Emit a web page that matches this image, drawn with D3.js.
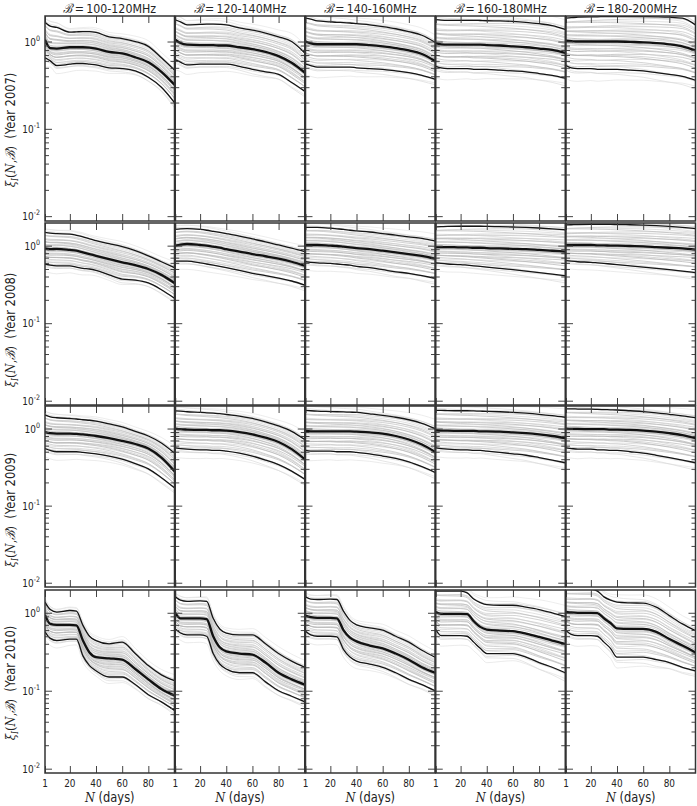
<!DOCTYPE html>
<html><head><meta charset="utf-8">
<script src="https://cdn.jsdelivr.net/npm/d3@7"></script>
<style>body{margin:0;background:#fff} svg{display:block}</style>
</head><body>
<script>
// ---------------- data ----------------
const years = ["2007","2008","2009","2010"];
const bands = ["100-120MHz","120-140MHz","140-160MHz","160-180MHz","180-200MHz"];
const days = [1,5,10,20,25,30,35,40,50,60,70,80,90,100];
const xTickValues = [1,20,40,60,80];
const yMajorValues = [0.01,0.1,1];
const yTickExponents = ["-2","-1","0"];

const medianCurves = [
 [[1.05,0.84,0.83,0.86,0.86,0.86,0.85,0.83,0.76,0.73,0.66,0.58,0.45,0.32],
  [1.05,0.96,0.92,0.91,0.91,0.91,0.90,0.90,0.86,0.82,0.76,0.68,0.57,0.44],
  [1.00,0.95,0.93,0.93,0.93,0.93,0.93,0.93,0.91,0.88,0.84,0.79,0.72,0.60],
  [0.95,0.93,0.92,0.92,0.92,0.92,0.92,0.91,0.90,0.88,0.86,0.83,0.80,0.74],
  [1.02,1.01,1.00,1.00,1.00,1.00,1.00,1.00,0.99,0.98,0.96,0.93,0.88,0.79]],
 [[0.92,0.90,0.91,0.88,0.86,0.82,0.78,0.74,0.67,0.61,0.56,0.50,0.42,0.33],
  [1.00,1.03,1.05,1.02,1.00,0.97,0.94,0.90,0.84,0.78,0.73,0.68,0.62,0.55],
  [1.02,1.02,1.02,1.00,0.99,0.97,0.95,0.93,0.90,0.86,0.82,0.78,0.74,0.68],
  [0.96,0.96,0.96,0.95,0.95,0.94,0.94,0.93,0.92,0.91,0.90,0.88,0.86,0.84],
  [1.02,1.02,1.02,1.02,1.01,1.01,1.00,1.00,0.99,0.98,0.96,0.94,0.92,0.89]],
 [[0.90,0.87,0.86,0.86,0.85,0.84,0.82,0.80,0.75,0.69,0.63,0.55,0.42,0.28],
  [1.00,0.98,0.97,0.96,0.96,0.95,0.95,0.94,0.90,0.84,0.76,0.67,0.54,0.40],
  [0.93,0.92,0.92,0.92,0.92,0.92,0.92,0.91,0.89,0.86,0.80,0.72,0.62,0.50],
  [0.95,0.94,0.94,0.93,0.93,0.93,0.92,0.92,0.91,0.89,0.87,0.84,0.80,0.75],
  [1.00,0.99,0.99,0.98,0.98,0.98,0.97,0.97,0.96,0.94,0.91,0.87,0.82,0.75]],
 [[0.94,0.72,0.70,0.70,0.69,0.44,0.31,0.27,0.26,0.25,0.19,0.14,0.105,0.087],
  [1.00,0.85,0.85,0.85,0.83,0.50,0.36,0.32,0.30,0.29,0.23,0.17,0.14,0.12],
  [0.92,0.88,0.86,0.86,0.85,0.60,0.48,0.43,0.38,0.35,0.30,0.25,0.20,0.17],
  [1.02,0.97,0.97,0.97,0.96,0.78,0.66,0.61,0.59,0.58,0.54,0.49,0.44,0.40],
  [1.03,1.01,1.00,1.00,0.99,0.85,0.74,0.63,0.62,0.62,0.57,0.46,0.38,0.31]]
];
const upperCurves = [
 [[1.66,1.50,1.45,1.28,1.29,1.30,1.30,1.27,1.13,1.08,1.00,0.88,0.65,0.47],
  [1.77,1.68,1.55,1.57,1.58,1.58,1.57,1.55,1.43,1.35,1.25,1.13,1.00,0.74],
  [1.85,1.80,1.72,1.68,1.66,1.65,1.63,1.60,1.55,1.48,1.40,1.30,1.18,0.98],
  [1.78,1.76,1.75,1.75,1.75,1.75,1.74,1.73,1.72,1.70,1.66,1.60,1.52,1.38],
  [1.85,1.88,1.90,1.92,1.92,1.93,1.93,1.93,1.93,1.93,1.92,1.90,1.85,1.55]],
 [[1.48,1.45,1.43,1.41,1.36,1.30,1.22,1.16,1.06,0.97,0.86,0.74,0.62,0.52],
  [1.62,1.65,1.66,1.62,1.58,1.53,1.48,1.43,1.33,1.22,1.12,1.02,0.93,0.84],
  [1.72,1.72,1.72,1.68,1.65,1.62,1.58,1.55,1.50,1.43,1.37,1.30,1.24,1.15],
  [1.75,1.76,1.77,1.78,1.78,1.78,1.78,1.77,1.76,1.74,1.72,1.69,1.65,1.60],
  [1.85,1.86,1.87,1.88,1.88,1.88,1.88,1.87,1.86,1.84,1.81,1.77,1.72,1.66]],
 [[1.50,1.42,1.38,1.35,1.33,1.30,1.28,1.25,1.15,1.05,0.92,0.80,0.65,0.48],
  [1.70,1.68,1.65,1.62,1.60,1.58,1.56,1.52,1.45,1.35,1.22,1.08,0.92,0.72],
  [1.72,1.70,1.68,1.66,1.65,1.64,1.63,1.62,1.55,1.48,1.40,1.30,1.17,1.00],
  [1.72,1.72,1.71,1.70,1.70,1.69,1.68,1.67,1.65,1.62,1.58,1.53,1.47,1.40],
  [1.80,1.80,1.79,1.78,1.77,1.76,1.75,1.74,1.70,1.66,1.60,1.53,1.46,1.38]],
 [[1.37,1.10,1.02,1.07,1.05,0.69,0.50,0.44,0.40,0.42,0.30,0.21,0.16,0.135],
  [1.60,1.45,1.40,1.42,1.40,0.85,0.62,0.55,0.52,0.52,0.40,0.30,0.24,0.20],
  [1.60,1.50,1.48,1.50,1.48,1.05,0.80,0.70,0.64,0.60,0.50,0.42,0.33,0.27],
  [1.90,1.90,1.90,1.90,1.80,1.50,1.35,1.27,1.25,1.25,1.18,1.10,1.00,0.90],
  [2.00,2.00,2.00,2.00,1.90,1.60,1.45,1.37,1.34,1.33,1.18,0.92,0.72,0.59]]
];
const lowerCurves = [
 [[0.65,0.60,0.53,0.55,0.56,0.56,0.55,0.54,0.50,0.49,0.46,0.39,0.30,0.20],
  [0.62,0.58,0.54,0.55,0.55,0.55,0.55,0.55,0.52,0.48,0.45,0.42,0.34,0.27],
  [0.55,0.53,0.51,0.51,0.51,0.51,0.51,0.50,0.49,0.48,0.46,0.44,0.41,0.37],
  [0.52,0.50,0.49,0.49,0.49,0.48,0.48,0.48,0.47,0.46,0.45,0.43,0.41,0.38],
  [0.53,0.50,0.49,0.49,0.48,0.48,0.48,0.48,0.47,0.46,0.44,0.42,0.40,0.36]],
 [[0.58,0.56,0.55,0.55,0.53,0.51,0.50,0.48,0.42,0.37,0.36,0.33,0.27,0.21],
  [0.63,0.63,0.63,0.60,0.58,0.56,0.54,0.52,0.48,0.44,0.41,0.38,0.35,0.31],
  [0.62,0.61,0.60,0.59,0.58,0.57,0.56,0.54,0.52,0.49,0.46,0.44,0.41,0.38],
  [0.60,0.59,0.58,0.57,0.56,0.55,0.54,0.53,0.51,0.49,0.47,0.45,0.43,0.41],
  [0.64,0.63,0.62,0.61,0.60,0.59,0.58,0.57,0.55,0.53,0.51,0.49,0.47,0.45]],
 [[0.55,0.52,0.50,0.50,0.50,0.49,0.48,0.47,0.44,0.40,0.35,0.30,0.23,0.17],
  [0.56,0.55,0.54,0.53,0.53,0.52,0.52,0.51,0.48,0.44,0.39,0.34,0.28,0.22],
  [0.52,0.51,0.51,0.51,0.50,0.50,0.50,0.49,0.47,0.44,0.41,0.37,0.32,0.27],
  [0.56,0.55,0.54,0.53,0.53,0.52,0.52,0.51,0.49,0.47,0.45,0.42,0.39,0.36],
  [0.56,0.55,0.54,0.54,0.53,0.53,0.52,0.52,0.50,0.48,0.45,0.42,0.39,0.36]],
 [[0.57,0.47,0.44,0.46,0.46,0.28,0.21,0.18,0.15,0.15,0.12,0.089,0.072,0.056],
  [0.62,0.55,0.52,0.52,0.50,0.30,0.22,0.19,0.17,0.17,0.13,0.10,0.085,0.072],
  [0.58,0.52,0.50,0.50,0.49,0.34,0.27,0.24,0.22,0.20,0.17,0.14,0.12,0.10],
  [0.61,0.51,0.51,0.51,0.50,0.42,0.35,0.30,0.30,0.30,0.27,0.23,0.20,0.17],
  [0.59,0.53,0.51,0.51,0.50,0.42,0.35,0.27,0.27,0.27,0.25,0.23,0.20,0.18]]
];
// individual ensemble members: relative position inside the envelope (-1 = lower, 1 = upper)
const memberPos   = [-1.35,-1.2,-1.1,-1.0,-0.92,-0.85,-0.78,-0.7,-0.62,-0.55,-0.5,-0.44,-0.38,-0.32,-0.27,-0.22,-0.17,-0.12,-0.08,-0.04,0.0,0.04,0.09,0.14,0.19,0.24,0.3,0.35,0.41,0.47,0.53,0.6,0.67,0.74,0.82,0.9,0.98,1.05,1.15,1.3];
const memberTilt  = [0.15,-0.1,0.08,0.0,-0.12,0.1,0.05,-0.06,0.12,-0.04,0.0,0.09,-0.1,0.06,-0.02,0.1,-0.08,0.04,0.0,-0.05,0.07,-0.09,0.03,0.11,-0.07,0.02,-0.11,0.08,-0.03,0.06,-0.1,0.04,0.1,-0.06,0.0,0.08,-0.12,0.05,-0.08,0.1];
const memberShade = ["#e0e0e0","#d6d6d6","#cfcfcf","#c4c4c4","#d2d2d2","#b8b8b8","#c8c8c8","#bcbcbc","#d0d0d0","#aaaaaa","#c2c2c2","#b2b2b2","#cbcbcb","#a8a8a8","#bebebe","#cdcdcd","#aeaeae","#c4c4c4","#b0b0b0","#bababa","#c6c6c6","#acacac","#c0c0c0","#d0d0d0","#b2b2b2","#c4c4c4","#b6b6b6","#cccccc","#b0b0b0","#c0c0c0","#cfcfcf","#bababa","#c8c8c8","#b6b6b6","#d2d2d2","#c2c2c2","#d6d6d6","#c8c8c8","#dcdcdc","#e2e2e2"];

// ---------------- layout ----------------
const W = 697, H = 806;
const colX = [45, 175.25, 305.5, 435.75, 566];
const colW = 129.5;
const rowTop = [16, 223, 406, 590];
const rowBot = [221, 405, 587, 773];
const rowLabelCenter = [130, 330, 510, 683];
const yDomain = [0.0088, 1.96];
const squeeze = 0.85; // text in the reference is horizontally compressed

const svg = d3.select("body").append("svg").attr("width", W).attr("height", H)
  .style("font-family", "'DejaVu Sans', sans-serif");
svg.append("rect").attr("width", W).attr("height", H).attr("fill", "#fff");
const defs = svg.append("defs");

const minorVals = [];
[0.01, 0.1, 1].forEach(d => { for (let k = 2; k <= 9; k++) if (d * k < 1.96) minorVals.push(d * k); });

function textAt(x, y, size, anchor, rotate) {
  const tr = rotate ? `translate(${x},${y}) rotate(-90) scale(${squeeze},1)` : `translate(${x},${y}) scale(${squeeze},1)`;
  return svg.append("text").attr("transform", tr).attr("text-anchor", anchor)
    .attr("font-size", size).attr("fill", "#222");
}

years.forEach((yr, r) => {
  bands.forEach((band, c) => {
    const x = d3.scaleLinear().domain([1, 100]).range([colX[c], colX[c] + colW]);
    const y = d3.scaleLog().domain(yDomain).range([rowBot[r], rowTop[r]]);
    const id = `clip-${r}-${c}`;
    defs.append("clipPath").attr("id", id).append("rect")
      .attr("x", colX[c]).attr("y", rowTop[r]).attr("width", colW).attr("height", rowBot[r] - rowTop[r]);
    const g = svg.append("g").attr("clip-path", `url(#${id})`);
    const med = medianCurves[r][c], up = upperCurves[r][c], lo = lowerCurves[r][c];
    const line = d3.line().x(d => x(d[0])).y(d => y(d[1])).curve(d3.curveMonotoneX);

    memberPos.forEach((p, m) => {
      const pts = days.map((d, i) => {
        const t = (d - 1) / 99 - 0.5;
        const q = p + memberTilt[m] * t * 2;
        const lm = Math.log(med[i]);
        const lv = q >= 0 ? lm + q * (Math.log(up[i]) - lm) : lm + q * (lm - Math.log(lo[i]));
        return [d, Math.exp(lv)];
      });
      g.append("path").attr("d", line(pts)).attr("fill", "none")
        .attr("stroke", memberShade[m]).attr("stroke-width", 0.8).attr("stroke-opacity", 0.8);
    });
    [up, lo].forEach(arr => {
      g.append("path").attr("d", line(days.map((d, i) => [d, arr[i]])))
        .attr("fill", "none").attr("stroke", "#151515").attr("stroke-width", 1.3);
    });
    g.append("path").attr("d", line(days.map((d, i) => [d, med[i]])))
      .attr("fill", "none").attr("stroke", "#111").attr("stroke-width", 2.3);

    // ticks (inward, on all sides)
    const tickStyle = sel => { sel.select(".domain").remove(); sel.selectAll("line").attr("stroke", "#444").attr("stroke-width", 1); sel.selectAll("text").remove(); };
    svg.append("g").attr("transform", `translate(${colX[c]},0)`).call(d3.axisRight(y).tickValues(minorVals).tickSize(4).tickFormat("")).call(tickStyle);
    svg.append("g").attr("transform", `translate(${colX[c]},0)`).call(d3.axisRight(y).tickValues(yMajorValues).tickSize(7).tickFormat("")).call(tickStyle);
    svg.append("g").attr("transform", `translate(${colX[c] + colW},0)`).call(d3.axisLeft(y).tickValues(minorVals).tickSize(4).tickFormat("")).call(tickStyle);
    svg.append("g").attr("transform", `translate(${colX[c] + colW},0)`).call(d3.axisLeft(y).tickValues(yMajorValues).tickSize(7).tickFormat("")).call(tickStyle);
    svg.append("g").attr("transform", `translate(0,${rowTop[r]})`).call(d3.axisBottom(x).tickValues(xTickValues).tickSize(7).tickFormat("")).call(tickStyle);
    svg.append("g").attr("transform", `translate(0,${rowBot[r]})`).call(d3.axisTop(x).tickValues(xTickValues).tickSize(7).tickFormat("")).call(tickStyle);

    svg.append("rect").attr("x", colX[c]).attr("y", rowTop[r]).attr("width", colW).attr("height", rowBot[r] - rowTop[r])
      .attr("fill", "none").attr("stroke", "#333").attr("stroke-width", 1.5);

    if (c === 0) {
      yMajorValues.forEach((v, k) => {
        const t = textAt(40, y(v) + 4, 10.5, "end");
        t.append("tspan").text("10");
        t.append("tspan").attr("dy", -5).attr("font-size", 7.5).text(yTickExponents[k]);
      });
      const lab = textAt(15, rowLabelCenter[r], 13.5, "middle", true);
      const serif = "'DejaVu Serif', serif";
      lab.append("tspan").attr("font-family", serif).attr("font-style", "italic").text("ξ");
      lab.append("tspan").attr("font-family", serif).attr("font-style", "italic").attr("font-size", 9).attr("dy", 3).text("I");
      lab.append("tspan").attr("dy", -3).attr("font-family", serif).text("(");
      lab.append("tspan").attr("font-family", serif).attr("font-style", "italic").text("N");
      lab.append("tspan").attr("font-family", serif).text(",");
      lab.append("tspan").attr("font-family", serif).attr("font-style", "italic").text("ℬ");
      lab.append("tspan").attr("font-family", serif).text(")");
      lab.append("tspan").text("\u00a0\u00a0(Year " + yr + ")");
    }
    if (r === 0) {
      const t = textAt(colX[c] + colW / 2, 13, 13, "middle");
      t.append("tspan").attr("font-family", "'DejaVu Serif', serif").attr("font-style", "italic").text("ℬ");
      t.append("tspan").text("\u2009=\u2009" + band);
    }
    if (r === years.length - 1) {
      xTickValues.forEach(v => {
        textAt(x(v), 787, 10.5, "middle").text(v);
      });
      const t = textAt(colX[c] + colW / 2, 802, 13.5, "middle");
      t.append("tspan").attr("font-family", "'DejaVu Serif', serif").attr("font-style", "italic").text("N");
      t.append("tspan").text(" (days)");
    }
  });
});
</script>
</body></html>
